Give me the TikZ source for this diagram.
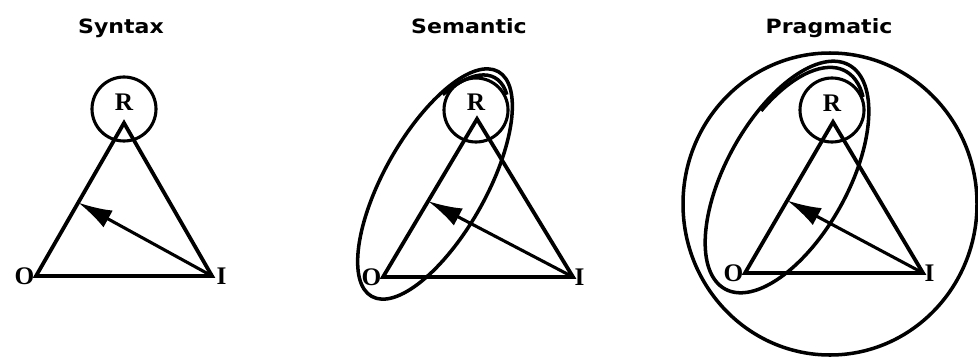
\documentclass[tikz,border=0pt]{standalone}
\usepackage{fontspec}
\setmainfont{Liberation Serif}
\newfontfamily\headfont{DejaVu Sans}
\usetikzlibrary{calc,positioning,arrows.meta}
\tikzstyle{vx}=[coordinate]
\tikzstyle{side}=[line width=2.7pt]
\tikzstyle{ring}=[shape=circle, draw, line width=2.2pt, minimum size=1.6cm, inner sep=0]
\tikzstyle{hull}=[line width=2.5pt]
\tikzstyle{lbl}=[font=\bfseries\fontsize{18}{18}\selectfont, inner sep=1pt]
\tikzstyle{heading}=[font=\headfont\bfseries\fontsize{14}{16}\selectfont, xscale=1.12, anchor=base]
\tikzstyle{refarrow}=[line width=2.2pt, -{Latex[length=8.5mm,width=4.8mm]}]

\begin{document}
\begin{tikzpicture}[x=.025cm, y=.025cm]
\useasboundingbox (0,0) rectangle (978,358);
\node at (121,325) [heading](sT){Syntax};
\node at (36,82) [vx](sO){};
\node at (212,82) [vx](sI){};
\node at (124,235) [vx](sR){};
\node at (124,249) [ring](sC){};
\node at (124,256) [lbl](sRl){R};
\node [lbl, left=0pt of sO](sOl){O};
\node [lbl, right=2pt of sI](sIl){I};
\draw[side] (sO)--(sR)--(sI)--cycle;
\draw[refarrow] (sI)--($(sO)!.48!(sR)$);

\node at (469,325) [heading](mT){Semantic};
\node at (383,81) [vx](mO){};
\node at (573,81) [vx](mI){};
\node at (477,239) [vx](mR){};
\node at (476,248) [ring](mC){};
\node at (476,256) [lbl](mRl){R};
\node [lbl, left=0pt of mO](mOl){O};
\node [lbl, right=0pt of mI](mIl){I};
\draw[side] (mO)--(mR)--(mI)--cycle;
\draw[refarrow] (mI)--($(mO)!.48!(mR)$);
\begin{scope}[shift={(435,174)}, rotate=60.6]
\draw[hull] (0,0) ellipse [x radius=129, y radius=51];
\draw[hull] (-22:122 and 50) arc [start angle=-22, end angle=48, x radius=122, y radius=50];
\end{scope}

\node at (829,325) [heading](pT){Pragmatic};
\node at (745,85) [vx](pO){};
\node at (923,85) [vx](pI){};
\node at (833,236) [vx](pR){};
\node at (832,248) [ring](pC){};
\node at (832,255) [lbl](pRl){R};
\node [lbl, left=0pt of pO](pOl){O};
\node [lbl, right=0pt of pI](pIl){I};
\draw[side] (pO)--(pR)--(pI)--cycle;
\draw[refarrow] (pI)--($(pO)!.48!(pR)$);
\begin{scope}[shift={(787,181)}, rotate=61]
\draw[hull] (0,0) ellipse [x radius=128, y radius=61];
\draw[hull] (-28:121 and 59) arc [start angle=-28, end angle=68, x radius=121, y radius=59];
\end{scope}
\draw[hull] (830,154) ellipse [x radius=147, y radius=151];
\end{tikzpicture}
\end{document}
